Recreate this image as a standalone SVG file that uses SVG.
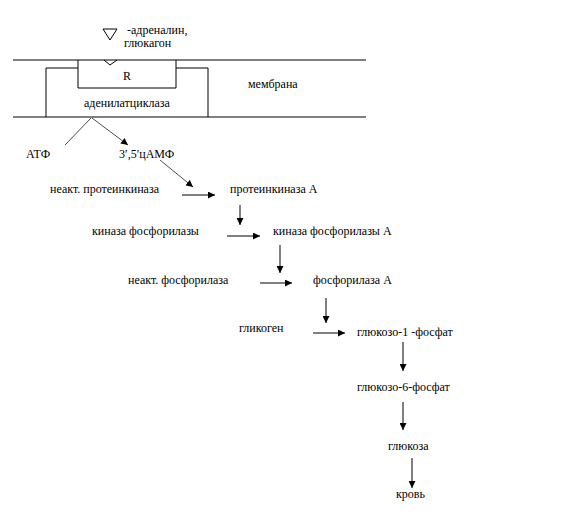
<svg xmlns="http://www.w3.org/2000/svg" width="568" height="519" viewBox="0 0 568 519">
<style>
.ln{stroke:#000;stroke-width:1;fill:none}
.thin{stroke:#000;stroke-width:0.7;fill:none}
</style>
<defs>
<marker id="ah" viewBox="0 0 10 10" refX="10" refY="5" markerWidth="7" markerHeight="7" markerUnits="userSpaceOnUse" orient="auto">
<path d="M0,0L10,5L0,10z" fill="#000"/>
</marker>
</defs>
<rect width="568" height="519" fill="#fff"/>
<g font-family="Liberation Serif, Times New Roman, serif" font-size="12" fill="#000">
<g id="membrane">
<line class="ln" x1="13" y1="60" x2="366" y2="60"/>
<line class="ln" x1="13" y1="117" x2="366" y2="117"/>
<text x="248" y="88">мембрана</text>
</g>
<g id="ligand">
<path class="ln" d="M103,29L117,29L110,40z"/>
<text x="127" y="34">-адреналин,</text>
<text x="124" y="47">глюкагон</text>
</g>
<g id="receptor">
<path class="ln" d="M78,60L78,88L176,88L176,60"/>
<path class="ln" d="M104,60L110,65L117,60"/>
<text x="123" y="80">R</text>
</g>
<g id="adenylate-cyclase">
<path class="ln" d="M78,68L46,68L46,117M176,68L208,68L208,117"/>
<text x="84" y="107">аденилатциклаза</text>
</g>
<g id="atp"><text x="26" y="158">АТФ</text></g>
<g id="camp"><text x="119" y="158">3′,5′цАМФ</text></g>
<g id="n1"><text x="50" y="193">неакт. протеинкиназа</text></g>
<g id="n2"><text x="230" y="193">протеинкиназа А</text></g>
<g id="n3"><text x="92" y="235">киназа фосфорилазы</text></g>
<g id="n4"><text x="273" y="235">киназа фосфорилазы А</text></g>
<g id="n5"><text x="128" y="284">неакт. фосфорилаза</text></g>
<g id="n6"><text x="313" y="284">фосфорилаза А</text></g>
<g id="n7"><text x="239" y="332">гликоген</text></g>
<g id="n8"><text x="357" y="336">глюкозо-1 -фосфат</text></g>
<g id="n9"><text x="357" y="391">глюкозо-6-фосфат</text></g>
<g id="n10"><text x="388" y="450">глюкоза</text></g>
<g id="n11"><text x="396" y="498">кровь</text></g>
</g>
<g id="connectors">
<line class="thin" x1="91" y1="118" x2="65" y2="145"/>
<line class="thin" x1="92" y1="118" x2="128" y2="145" marker-end="url(#ah)"/>
<line class="thin" x1="160" y1="160" x2="193" y2="187" marker-end="url(#ah)"/>
<line class="ln" x1="182" y1="195" x2="215" y2="195" marker-end="url(#ah)"/>
<line class="ln" x1="240" y1="205" x2="240" y2="225" marker-end="url(#ah)"/>
<line class="ln" x1="227" y1="236" x2="260" y2="236" marker-end="url(#ah)"/>
<line class="ln" x1="280" y1="245" x2="280" y2="273" marker-end="url(#ah)"/>
<line class="ln" x1="260" y1="283" x2="292" y2="283" marker-end="url(#ah)"/>
<line class="ln" x1="326" y1="298" x2="326" y2="323" marker-end="url(#ah)"/>
<line class="ln" x1="313" y1="333" x2="345" y2="333" marker-end="url(#ah)"/>
<line class="ln" x1="403" y1="342" x2="403" y2="371" marker-end="url(#ah)"/>
<line class="ln" x1="403" y1="402" x2="403" y2="430" marker-end="url(#ah)"/>
<line class="ln" x1="412" y1="458" x2="412" y2="488" marker-end="url(#ah)"/>
</g>
</svg>
